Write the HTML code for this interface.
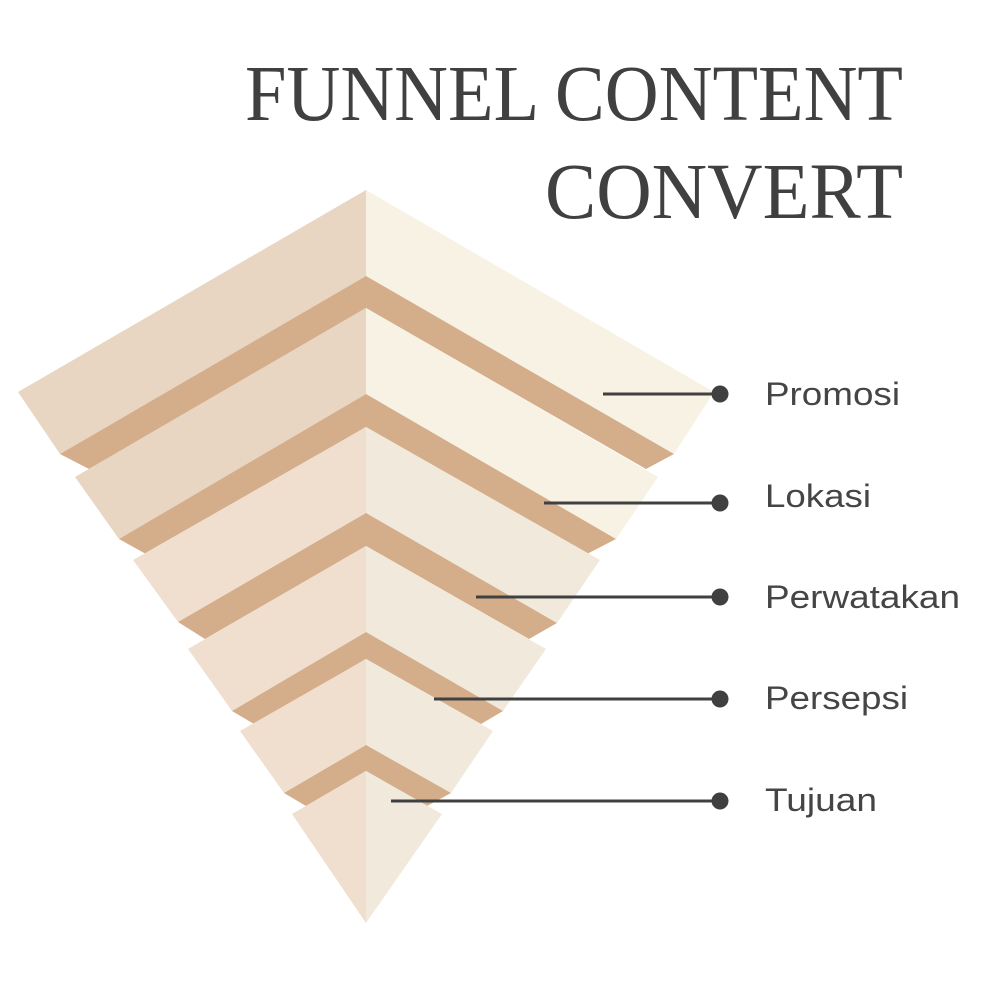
<!DOCTYPE html>
<html><head><style>html,body{margin:0;padding:0;background:#fff}svg{display:block}</style></head>
<body>
<svg width="1000" height="1000" viewBox="0 0 1000 1000" xmlns="http://www.w3.org/2000/svg">
<rect width="1000" height="1000" fill="#fff"/>
<g font-family="Liberation Serif, serif" fill="#404040" font-size="79">
<text x="245" y="120" textLength="658" lengthAdjust="spacingAndGlyphs">FUNNEL CONTENT</text>
<text x="545" y="218" textLength="358" lengthAdjust="spacingAndGlyphs">CONVERT</text>
</g>
<!-- layer 1 -->
<polygon points="18,392 366,190 366,276 60,454" fill="#e8d6c3"/>
<polygon points="366,190 714,392 674,454 366,276" fill="#f8f2e5"/>
<polygon points="60,454 366,276 674,454 646,469 366,308 89,469" fill="#d4ae8a"/>
<!-- layer 2 -->
<polygon points="75,477 366,308 366,394 119,539" fill="#e8d6c3"/>
<polygon points="366,308 658,477 616,539 366,394" fill="#f8f2e5"/>
<polygon points="119,539 366,394 616,539 587,554 366,427 146,554" fill="#d4ae8a"/>
<!-- layer 3 -->
<polygon points="133,560 366,427 366,513 178,622" fill="#f0dfcf"/>
<polygon points="366,427 600,560 557,623 366,513" fill="#f1eadc"/>
<polygon points="178,622 366,513 557,623 529,639 366,546 205,639" fill="#d4ae8a"/>
<!-- layer 4 -->
<polygon points="188,649 366,546 366,632 232,711" fill="#f0dfcf"/>
<polygon points="366,546 546,649 503,711 366,632" fill="#f1eadc"/>
<polygon points="232,711 366,632 503,711 481,724 366,659 254,724" fill="#d4ae8a"/>
<!-- layer 5 -->
<polygon points="240,731 366,659 366,745 284,793" fill="#f0dfcf"/>
<polygon points="366,659 493,731 451,793 366,745" fill="#f1eadc"/>
<polygon points="284,793 366,745 451,793 427,806 366,771 306,806" fill="#d4ae8a"/>
<!-- layer 6 -->
<polygon points="292,814 366,771 366,923" fill="#f0dfcf"/>
<polygon points="366,771 442,814 366,923" fill="#f1eadc"/>
<!-- connectors -->
<g stroke="#404040" stroke-width="3">
<line x1="603" y1="394" x2="720" y2="394"/>
<line x1="544" y1="503" x2="720" y2="503"/>
<line x1="476" y1="597" x2="720" y2="597"/>
<line x1="434" y1="699" x2="720" y2="699"/>
<line x1="391" y1="801" x2="720" y2="801"/>
</g>
<g fill="#404040">
<circle cx="720" cy="394" r="8.5"/>
<circle cx="720" cy="503" r="8.5"/>
<circle cx="720" cy="597" r="8.5"/>
<circle cx="720" cy="699" r="8.5"/>
<circle cx="720" cy="801" r="8.5"/>
</g>
<g font-family="Liberation Sans, sans-serif" font-size="32" fill="#454545">
<text x="765" y="405" textLength="135" lengthAdjust="spacingAndGlyphs">Promosi</text>
<text x="765" y="507" textLength="106" lengthAdjust="spacingAndGlyphs">Lokasi</text>
<text x="765" y="608" textLength="195" lengthAdjust="spacingAndGlyphs">Perwatakan</text>
<text x="765" y="709" textLength="143" lengthAdjust="spacingAndGlyphs">Persepsi</text>
<text x="765" y="811" textLength="112" lengthAdjust="spacingAndGlyphs">Tujuan</text>
</g>
</svg>
</body></html>
